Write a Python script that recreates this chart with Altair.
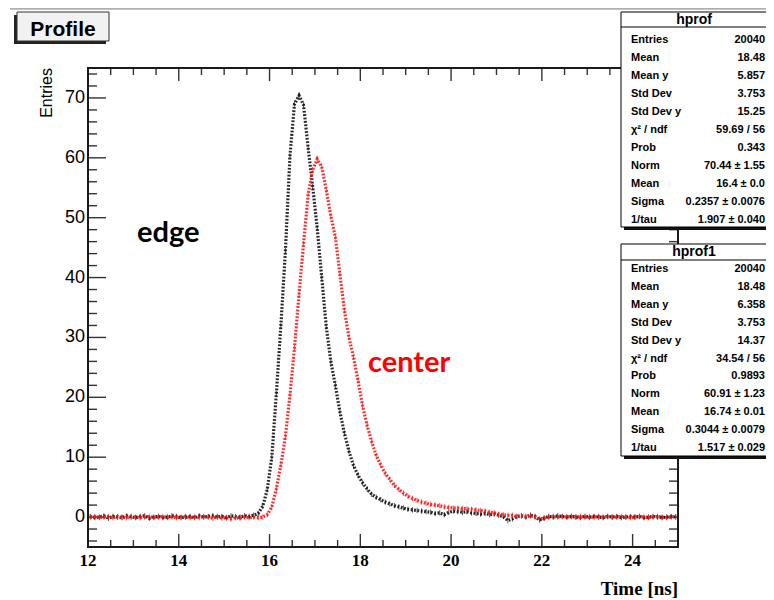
import altair as alt
import pandas as pd
import numpy as np

# ---------------- data ----------------
t_centers = [round(12.05 + 0.1 * i, 2) for i in range(130)]

edge_y = [
    0.1, -0.1, 0.0, 0.2, -0.2, 0.1, 0.0, -0.1, 0.2, 0.0,
    -0.1, 0.1, 0.2, -0.2, 0.0, 0.1, -0.1, 0.0, 0.2, 0.1,
    -0.1, 0.0, 0.1, -0.1, 0.2, 0.0, 0.1, 0.2, 0.0, 0.1,
    -0.1, 0.2, 0.1, 0.0, 0.2, 0.1, 0.3,
    0.6, 1.8, 4.6, 10.0, 20.6, 32.0, 44.5, 60.3, 69.0,
    70.4, 68.8, 61.7, 55.2, 48.3, 40.0, 31.8, 26.0, 22.0, 17.6,
    14.0, 11.0, 8.6, 7.0, 5.7, 4.7, 3.8, 3.3, 2.9, 2.5,
    2.2, 1.9, 1.7, 1.5, 1.3, 1.2, 1.1, 1.0, 0.9, 0.8,
    0.6, 0.7, 0.4, 0.8, 1.0, 0.9, 0.8, 0.9, 0.7, 0.6,
    0.5, 0.6, 0.4, 0.5, 0.3, 0.1, -0.6, -0.3, 0.1, 0.2,
    0.0, 0.3, 0.1, -0.5, -0.2, 0.1, 0.0, 0.2, 0.1, 0.0,
    0.1, 0.0, -0.1, 0.1, 0.0, 0.1, 0.0, -0.1, 0.1, 0.0,
    0.1, -0.1, 0.0, 0.1, 0.0, 0.1, -0.1, 0.0, 0.1, 0.0,
    -0.1, 0.0, 0.1, 0.0,
]

center_y = [
    0.0, 0.1, -0.1, 0.0, 0.1, -0.1, 0.1, 0.0, -0.1, 0.1,
    0.0, -0.1, 0.0, 0.1, -0.1, 0.0, 0.1, -0.1, 0.0, -0.1,
    0.0, 0.1, -0.1, 0.0, -0.1, 0.1, 0.0, -0.2, 0.1, -0.2,
    -0.1, -0.3, -0.1, -0.2, 0.0, -0.1, 0.0, -0.1, 0.0,
    0.4, 1.7, 4.7, 8.7, 13.5, 20.4, 28.3, 37.2, 45.7, 53.8,
    58.0, 59.8, 58.5, 54.6, 50.3, 46.8, 40.6, 34.5, 30.0, 26.7,
    22.8, 18.6, 15.3, 12.6, 10.3, 8.7, 7.3, 6.3, 5.3, 4.6,
    4.0, 3.5, 3.1, 2.8, 2.5, 2.3, 2.1, 2.0, 1.9, 1.7,
    1.6, 1.5, 1.5, 1.4, 1.4, 1.3, 1.2, 1.1, 1.0, 0.8,
    0.7, 0.5, 0.4, 0.3, 0.3, 0.1, 0.2, 0.1, 0.2, 0.0,
    -0.3, -0.2, 0.0, 0.1, 0.0, 0.1, 0.0, 0.1, 0.0, 0.1,
    0.0, -0.1, 0.0, 0.1, 0.0, 0.1, 0.0, 0.0, 0.1, 0.0,
    -0.1, 0.0, 0.1, 0.0, -0.1, 0.0, 0.1, 0.0, -0.1, 0.0,
    0.1,
]

x_major = [12, 14, 16, 18, 20, 22, 24]
x_minor = [v / 2 for v in range(24, 51) if (v / 2) not in x_major]
y_major = [0, 10, 20, 30, 40, 50, 60, 70]
y_minor = [v for v in range(-4, 76, 2) if v not in y_major]

stat_labels = ["Entries", "Mean", "Mean y", "Std Dev", "Std Dev y",
               "\u03c7\u00b2 / ndf", "Prob", "Norm", "Mean", "Sigma", "1/tau"]
hprof_values = ["20040", "18.48", "5.857", "3.753", "15.25", "59.69 / 56",
                "0.343", "70.44 \u00b1 1.55", "16.4 \u00b1 0.0",
                "0.2357 \u00b1 0.0076", "1.907 \u00b1 0.040"]
hprof1_values = ["20040", "18.48", "6.358", "3.753", "14.37", "34.54 / 56",
                 "0.9893", "60.91 \u00b1 1.23", "16.74 \u00b1 0.01",
                 "0.3044 \u00b1 0.0079", "1.517 \u00b1 0.029"]

# ---------------- layout ----------------
W, H = 590, 479
PAD = {"left": 80, "top": 60, "right": 88, "bottom": 52}
xs = alt.Scale(domain=[12, 25], nice=False, zero=False)
ys = alt.Scale(domain=[-5, 75], nice=False, zero=False)
one = pd.DataFrame({"a": [0]})
ERR = 0.45


def series_df(vals):
    d = pd.DataFrame({"t": t_centers, "v": vals})
    d["lo"] = d["v"] - ERR
    d["hi"] = d["v"] + ERR
    return d


df_edge = series_df(edge_y)
df_center = series_df(center_y)

layers = []


def rect(x1, x2, y1, y2, **kw):
    return alt.Chart(one).mark_rect(**kw).encode(
        x=alt.value(x1), x2=alt.value(x2), y=alt.value(y1), y2=alt.value(y2))


def hrule(x1, x2, y, **kw):
    return alt.Chart(one).mark_rule(**kw).encode(
        x=alt.value(x1), x2=alt.value(x2), y=alt.value(y))


def text(s, x, y, **kw):
    return alt.Chart(one).mark_text(text=s, **kw).encode(x=alt.value(x), y=alt.value(y))


# ticks (drawn inward, ROOT style)
tick_style = dict(color="#333333", strokeWidth=1.4)
for vals, ln in ((x_major, 13), (x_minor, 7)):
    d = pd.DataFrame({"p": vals})
    layers.append(alt.Chart(d).mark_rule(**tick_style).encode(
        x=alt.X("p:Q", scale=xs, axis=None), y=alt.value(H), y2=alt.value(H - ln)))
    layers.append(alt.Chart(d).mark_rule(**tick_style).encode(
        x=alt.X("p:Q", scale=xs, axis=None), y=alt.value(0), y2=alt.value(ln)))
for vals, ln in ((y_major, 18), (y_minor, 9)):
    d = pd.DataFrame({"p": vals})
    layers.append(alt.Chart(d).mark_rule(**tick_style).encode(
        y=alt.Y("p:Q", scale=ys, axis=None), x=alt.value(0), x2=alt.value(ln)))
    layers.append(alt.Chart(d).mark_rule(**tick_style).encode(
        y=alt.Y("p:Q", scale=ys, axis=None), x=alt.value(W), x2=alt.value(W - ln)))

# tick labels
layers.append(alt.Chart(pd.DataFrame({"p": x_major})).mark_text(
    font="Liberation Serif", fontWeight="bold", fontSize=17, color="black",
    align="center", baseline="top").encode(
    x=alt.X("p:Q", scale=xs, axis=None), y=alt.value(H + 6),
    text=alt.Text("p:Q", format="d")))
layers.append(alt.Chart(pd.DataFrame({"p": y_major})).mark_text(
    font="Liberation Sans", fontSize=18, color="black",
    align="right", baseline="middle").encode(
    y=alt.Y("p:Q", scale=ys, axis=None), x=alt.value(-3),
    text=alt.Text("p:Q", format="d")))

# frame
layers.append(rect(0, W, 0, H, fillOpacity=0, stroke="#1a1a1a", strokeWidth=2))

# data series
for d, col in ((df_edge, "#111111"), (df_center, "#ff1414")):
    layers.append(alt.Chart(d).mark_line(color=col, strokeWidth=3.2, strokeDash=[1.8, 1.6],
                                         opacity=0.9).encode(
        x=alt.X("t:Q", scale=xs, axis=None),
        y=alt.Y("v:Q", scale=ys, axis=None)))
    layers.append(alt.Chart(d).mark_rule(color=col, strokeWidth=1, opacity=0.7).encode(
        x=alt.X("t:Q", scale=xs, axis=None),
        y=alt.Y("lo:Q", scale=ys, axis=None), y2="hi:Q"))

# annotations
layers.append(text("edge", 49, 174, font="Lato", fontWeight="bold", fontSize=29,
                   color="black", align="left", baseline="alphabetic"))
layers.append(text("center", 280, 304, font="Lato", fontWeight="bold", fontSize=29,
                   color="#ff0000", align="left", baseline="alphabetic"))

# axis titles
layers.append(text("Time [ns]", W, 527, font="Liberation Serif", fontWeight="bold",
                   fontSize=19, color="black", align="right", baseline="alphabetic"))
layers.append(text("Entries", -36, 0, font="Liberation Sans", fontSize=16, color="black",
                   angle=270, align="right", baseline="alphabetic"))

# top canvas line
layers.append(hrule(-78, 690, -59.5, color="#b0b0b0", strokeWidth=2.5))

# Profile title box
layers.append(rect(-74, 18, -53, -24, fill="#222222"))
layers.append(rect(-71, 21, -56, -27, fill="#f2f2f2", stroke="#333333", strokeWidth=1))
layers.append(text("Profile", -25, -32, font="Liberation Sans", fontWeight="bold",
                   fontSize=21, color="black", align="center", baseline="alphabetic"))

# stats boxes
def stats_box(name, values, top, head_line, head_base, first_base, step, bottom):
    out = []
    out.append(rect(536, 690, top + 3, bottom + 3, fill="#111111"))
    out.append(rect(533, 685, top, bottom, fill="white", stroke="black", strokeWidth=1))
    out.append(hrule(533, 685, head_line, color="black", strokeWidth=1))
    out.append(text(name, 606, head_base, font="Liberation Sans", fontWeight="bold",
                    fontSize=14, color="black", align="center", baseline="alphabetic"))
    for i, (lab, val) in enumerate(zip(stat_labels, values)):
        yb = first_base + step * i
        out.append(text(lab, 543, yb, font="Liberation Sans", fontWeight="bold",
                        fontSize=11, color="black", align="left", baseline="alphabetic"))
        out.append(text(val, 677, yb, font="Liberation Sans", fontWeight="bold",
                        fontSize=11, color="black", align="right", baseline="alphabetic"))
    return out


layers += stats_box("hprof", hprof_values, -56, -41, -44, -25, 18, 159)
layers += stats_box("hprof1", hprof1_values, 176, 192, 188, 204, 17.9, 388)

chart = alt.layer(*layers).properties(
    width=W, height=H,
    autosize=alt.AutoSizeParams(type="none"),
    padding=PAD,
).configure_view(stroke=None)

chart.save("out.html", embed_options={"renderer": "svg", "actions": False})
